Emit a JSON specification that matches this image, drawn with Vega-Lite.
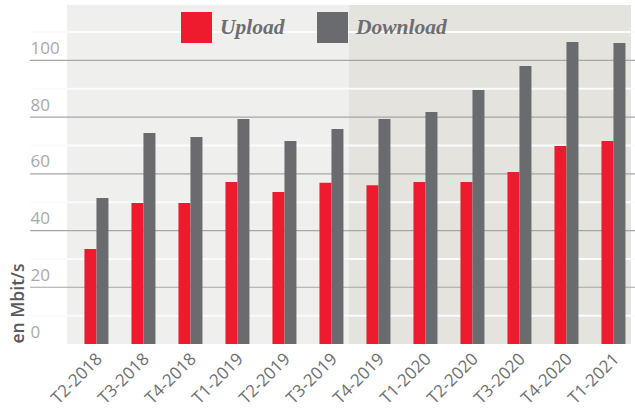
{
  "$schema": "https://vega.github.io/schema/vega-lite/v6.json",
  "autosize": {"type": "none"},
  "padding": {"left": 30, "top": 5, "right": 0, "bottom": 67},
  "width": 605,
  "height": 339,
  "background": "#ffffff",
  "view": {"stroke": null},
  "config": {"font": "Open Sans"},
  "layer": [
    {
      "data": {"values": [
        {"quarter": "T2-2018", "zone": "2018-2019"},
        {"quarter": "T3-2018", "zone": "2018-2019"},
        {"quarter": "T4-2018", "zone": "2018-2019"},
        {"quarter": "T1-2019", "zone": "2018-2019"},
        {"quarter": "T2-2019", "zone": "2018-2019"},
        {"quarter": "T3-2019", "zone": "2018-2019"},
        {"quarter": "T4-2019", "zone": "2019-2021"},
        {"quarter": "T1-2020", "zone": "2019-2021"},
        {"quarter": "T2-2020", "zone": "2019-2021"},
        {"quarter": "T3-2020", "zone": "2019-2021"},
        {"quarter": "T4-2020", "zone": "2019-2021"},
        {"quarter": "T1-2021", "zone": "2019-2021"}
      ]},
      "mark": {"type": "rect"},
      "encoding": {
        "x": {
          "field": "quarter", "type": "nominal",
          "scale": {
            "domain": ["T2-2018","T3-2018","T4-2018","T1-2019","T2-2019","T3-2019","T4-2019","T1-2020","T2-2020","T3-2020","T4-2020","T1-2021"],
            "paddingInner": 0, "paddingOuter": 0.436, "align": 0.902
          },
          "axis": {
            "title": null, "domain": false, "ticks": false, "grid": false,
            "labelAngle": -45, "labelAlign": "right", "labelBaseline": "middle",
            "labelFontSize": 17, "labelColor": "#6d6e71", "labelPadding": 12, "labelOffset": 9,
            "labelFont": "Open Sans"
          }
        },
        "fill": {
          "field": "zone", "type": "nominal",
          "scale": {"domain": ["2018-2019", "2019-2021"], "range": ["#eff0ee", "#e5e3de"]},
          "legend": null
        }
      }
    },
    {
      "data": {"values": [
        {"level": 10, "kind": "minor"},
        {"level": 20, "kind": "major"},
        {"level": 30, "kind": "minor"},
        {"level": 40, "kind": "major"},
        {"level": 50, "kind": "minor"},
        {"level": 60, "kind": "major"},
        {"level": 70, "kind": "minor"},
        {"level": 80, "kind": "major"},
        {"level": 90, "kind": "minor"},
        {"level": 100, "kind": "major"},
        {"level": 110, "kind": "minor"}
      ]},
      "mark": {"type": "rule"},
      "encoding": {
        "y": {"field": "level", "type": "quantitative"},
        "stroke": {
          "field": "kind", "type": "nominal",
          "scale": {"domain": ["major", "minor"], "range": ["#a6a6a6", "#fbfbfb"]},
          "legend": null
        },
        "strokeWidth": {
          "field": "kind", "type": "nominal",
          "scale": {"domain": ["major", "minor"], "range": [1.2, 2]},
          "legend": null
        }
      }
    },
    {
      "data": {"values": [
        {"quarter": "T2-2018", "series": "Upload", "value": 33.5},
        {"quarter": "T2-2018", "series": "Download", "value": 51.5},
        {"quarter": "T3-2018", "series": "Upload", "value": 49.7},
        {"quarter": "T3-2018", "series": "Download", "value": 74.4},
        {"quarter": "T4-2018", "series": "Upload", "value": 49.7},
        {"quarter": "T4-2018", "series": "Download", "value": 73.0},
        {"quarter": "T1-2019", "series": "Upload", "value": 57.1},
        {"quarter": "T1-2019", "series": "Download", "value": 79.3},
        {"quarter": "T2-2019", "series": "Upload", "value": 53.6},
        {"quarter": "T2-2019", "series": "Download", "value": 71.6},
        {"quarter": "T3-2019", "series": "Upload", "value": 56.8},
        {"quarter": "T3-2019", "series": "Download", "value": 75.8},
        {"quarter": "T4-2019", "series": "Upload", "value": 56.0},
        {"quarter": "T4-2019", "series": "Download", "value": 79.3},
        {"quarter": "T1-2020", "series": "Upload", "value": 57.1},
        {"quarter": "T1-2020", "series": "Download", "value": 81.8},
        {"quarter": "T2-2020", "series": "Upload", "value": 57.1},
        {"quarter": "T2-2020", "series": "Download", "value": 89.5},
        {"quarter": "T3-2020", "series": "Upload", "value": 60.6},
        {"quarter": "T3-2020", "series": "Download", "value": 98.0},
        {"quarter": "T4-2020", "series": "Upload", "value": 69.8},
        {"quarter": "T4-2020", "series": "Download", "value": 106.5},
        {"quarter": "T1-2021", "series": "Upload", "value": 71.6},
        {"quarter": "T1-2021", "series": "Download", "value": 106.1}
      ]},
      "mark": {"type": "bar"},
      "encoding": {
        "x": {"field": "quarter", "type": "nominal"},
        "xOffset": {
          "field": "series", "type": "nominal",
          "scale": {"domain": ["Upload", "Download"], "paddingInner": 0, "paddingOuter": 0.958, "align": 0.76}
        },
        "y": {
          "field": "value", "type": "quantitative",
          "scale": {"domain": [0, 119.5], "nice": false, "zero": true},
          "axis": {
            "values": [0, 20, 40, 60, 80, 100],
            "grid": false, "domain": false, "ticks": false, "tickSize": 0,
            "labelAlign": "left", "labelBaseline": "alphabetic", "labelPadding": 0, "labelOffset": -7,
            "labelFontSize": 17, "labelColor": "#a7a9ac", "labelFont": "Open Sans",
            "title": "en Mbit/s", "titleAngle": -90, "titleAlign": "left", "titleBaseline": "alphabetic",
            "titleX": -7, "titleY": 338, "titleFontSize": 17.5, "titleFontWeight": 600,
            "titleColor": "#58595b", "titleFont": "Open Sans"
          }
        },
        "color": {
          "field": "series", "type": "nominal",
          "scale": {"domain": ["Upload", "Download"], "range": ["#ee1b2e", "#6a6b6f"]},
          "legend": {
            "orient": "none", "legendX": 151, "legendY": 7, "direction": "horizontal",
            "title": null, "symbolType": "square", "symbolSize": 961, "symbolStrokeWidth": 0,
            "symbolOpacity": 1, "labelFont": "Liberation Serif", "labelFontStyle": "italic",
            "labelFontWeight": "bold", "labelFontSize": 21.5, "labelColor": "#6d6e71",
            "labelOffset": 8, "columnPadding": 32, "padding": 0, "labelLimit": 0
          }
        }
      }
    },
    {
      "mark": {"type": "rule", "color": "#6d6e71", "strokeWidth": 3},
      "encoding": {"y": {"datum": 0}}
    }
  ]
}
